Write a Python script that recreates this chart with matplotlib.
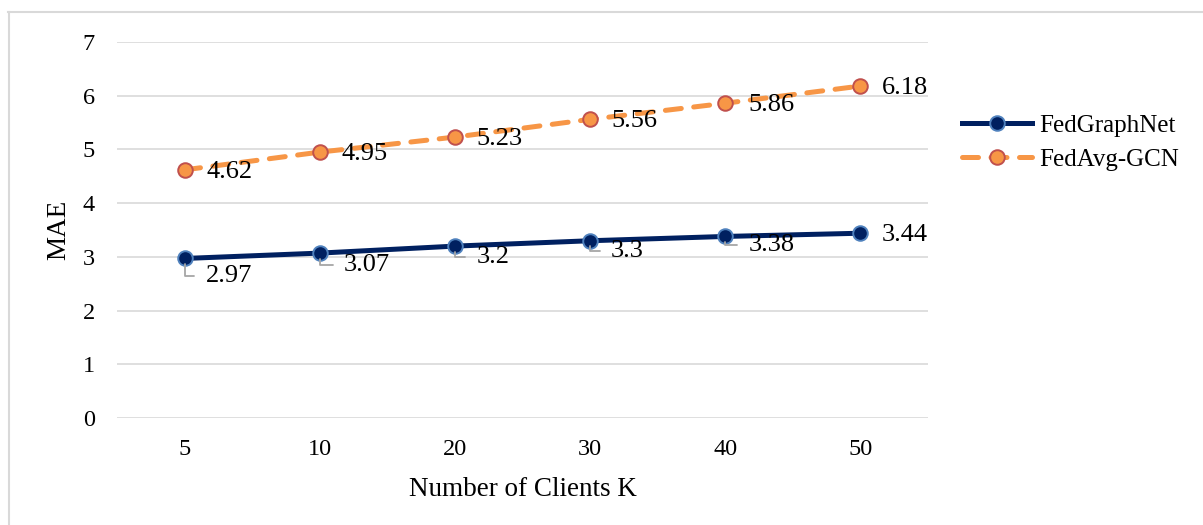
import matplotlib.pyplot as plt
from matplotlib.lines import Line2D

plt.rcParams['font.family'] = ['Liberation Serif', 'DejaVu Serif']

clients = ['5', '10', '20', '30', '40', '50']
fedgraphnet = [2.97, 3.07, 3.2, 3.3, 3.38, 3.44]
fedavg_gcn = [4.62, 4.95, 5.23, 5.56, 5.86, 6.18]
y_ticks = [0, 1, 2, 3, 4, 5, 6, 7]

# label centre offsets in pixels (dx, dy) from each point
gn_offsets = [(44, -18), (47, -12), (38, -11), (37, -10), (46, -9), (44, -2)]
gn_leader = [True, True, True, True, True, False]
ga_offsets = [(45, -2), (45, -2), (45, -2), (44, -2), (46, -2), (45, -2)]

navy = '#002060'
navy_edge = '#4f81bd'
orange = '#f79646'
orange_edge = '#c0504d'
grid_c = '#d9d9d9'

fig = plt.figure(figsize=(12.03, 5.25), dpi=100)
ax = fig.add_axes([117 / 1203, 1 - 418 / 525, 811 / 1203, 376 / 525])

x = list(range(len(clients)))
ax.plot(x, fedgraphnet, color=navy, lw=3.6, marker='o', ms=10.5,
        mfc=navy, mec=navy_edge, mew=1.4, label='FedGraphNet', zorder=3)
ax.plot(x, fedavg_gcn, color=orange, lw=3.6, ls=(0, (3.2, 2.5)),
        dash_capstyle='round', marker='o', ms=10.5,
        mfc=orange, mec=orange_edge, mew=1.4, label='FedAvg-GCN', zorder=3)

for xi, v, (dx, dy), lead in zip(x, fedgraphnet, gn_offsets, gn_leader):
    kw = {}
    if lead:
        kw['arrowprops'] = dict(arrowstyle='-', color='#a6a6a6', lw=1.3,
                                connectionstyle='angle,angleA=0,angleB=90,rad=0',
                                relpos=(0, 0.5), shrinkA=6, shrinkB=4)
    ax.annotate(f'{v:g}', (xi, v), xytext=(dx, dy), textcoords='offset pixels',
                ha='center', va='center', fontsize=19, color='black', zorder=4, **kw)

for xi, v, (dx, dy) in zip(x, fedavg_gcn, ga_offsets):
    ax.annotate(f'{v:g}', (xi, v), xytext=(dx, dy), textcoords='offset pixels',
                ha='center', va='center', fontsize=19, color='black', zorder=4)

ax.set_xlim(-0.5, len(clients) - 0.5)
ax.set_ylim(0, 7)
ax.set_xticks(x)
ax.set_xticklabels(clients)
ax.set_yticks(y_ticks)
ax.tick_params(length=0, labelsize=17.5)
ax.tick_params(axis='y', pad=16)
ax.tick_params(axis='x', pad=15)
for s in ax.spines.values():
    s.set_visible(False)
ax.grid(axis='y', color=grid_c, lw=1.2)
ax.set_axisbelow(True)
ax.set_xlabel('Number of Clients K', fontsize=19.5, labelpad=12)
ax.set_ylabel('MAE', fontsize=19.5, labelpad=8)

fig.legend(handles=ax.get_lines(), labels=['FedGraphNet', 'FedAvg-GCN'],
           loc='center left', bbox_to_anchor=(962 / 1203, 1 - 142.5 / 525),
           frameon=False, fontsize=18, handlelength=2.8, handletextpad=0.3,
           labelspacing=0.45, borderpad=0, borderaxespad=0)

# chart border (top and left edges)
fig.add_artist(Line2D([8 / 1203, 1], [1 - 12 / 525, 1 - 12 / 525],
                      transform=fig.transFigure, color=grid_c, lw=1.5))
fig.add_artist(Line2D([8.5 / 1203, 8.5 / 1203], [0, 1 - 12 / 525],
                      transform=fig.transFigure, color=grid_c, lw=1.5))

fig.savefig('out.png', dpi=100)
